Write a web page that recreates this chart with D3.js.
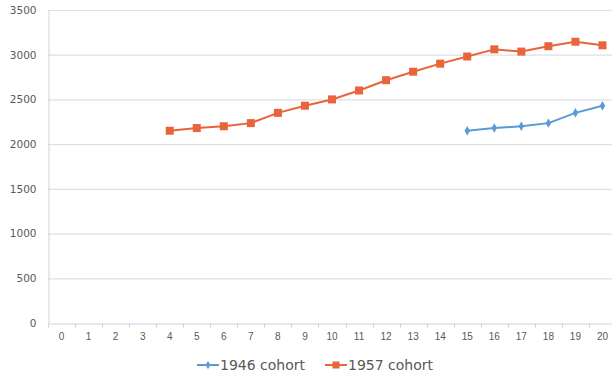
<!DOCTYPE html>
<html><head><meta charset="utf-8">
<script src="https://cdn.jsdelivr.net/npm/d3@7"></script>
<style>body{margin:0;background:#fff}svg{display:block}</style>
</head><body>
<svg id="c" width="612" height="376"></svg>
<script>
const categories = d3.range(0, 21).map(String);
const cohort1946 = [null,null,null,null,null,null,null,null,null,null,null,null,null,null,null,2150,2180,2200,2235,2350,2430];
const cohort1957 = [null,null,null,null,2150,2180,2200,2235,2350,2430,2500,2600,2715,2810,2900,2980,3060,3035,3095,3145,3105];
const yTicks = [0,500,1000,1500,2000,2500,3000,3500];
const seriesNames = ["1946 cohort","1957 cohort"];
const colors = ["#5B9BD5","#E9643A"];

(function(){
const svg = d3.select("#c");
const mLeft = 48, mRight = 616, mTop = 10, mBottom = 323;
const x = d3.scaleBand().domain(categories).range([mLeft, mRight]);
const y = d3.scaleLinear().domain([0, 3500]).range([mBottom, mTop]);
const fontX = "'Liberation Sans', Arial, sans-serif";
const fontY = "'DejaVu Sans', sans-serif";

svg.append("g").selectAll("line").data(yTicks.filter(d=>d>0)).join("line")
  .attr("x1", mLeft).attr("x2", 612).attr("y1", d=>y(d)+0.5).attr("y2", d=>y(d)+0.5)
  .attr("stroke", "#DCE1E5").attr("stroke-width", 1.2);

const ya = svg.append("g").attr("transform", `translate(${mLeft+0.5},0)`)
  .call(d3.axisLeft(y).tickValues(yTicks).tickFormat(d3.format("d")).tickSize(0).tickPadding(12));
ya.select(".domain").attr("stroke", "#CBD5DD");
ya.selectAll("text").attr("font-family", fontY).attr("font-size", 10.5).attr("fill", "#595959");

const xa = svg.append("g").attr("transform", `translate(0,${mBottom+0.5})`)
  .call(d3.axisBottom(x).tickSize(0).tickPadding(9));
xa.select(".domain").attr("stroke", "#CBD5DD");
xa.selectAll("text").attr("font-family", fontX).attr("font-size", 10).attr("fill", "#595959");
xa.append("g").selectAll("line").data(d3.range(0, 22)).join("line")
  .attr("x1", i => Math.round(mLeft + i * x.step()) + 0.5).attr("x2", i => Math.round(mLeft + i * x.step()) + 0.5)
  .attr("y1", 0).attr("y2", 4).attr("stroke", "#CBD5DD");

const cx = i => x(categories[i]) + x.bandwidth()/2;
const line = d3.line().defined(d => d.v != null).x(d => cx(d.i)).y(d => y(d.v));

[cohort1946, cohort1957].forEach((vals, s) => {
  const pts = vals.map((v, i) => ({i, v}));
  svg.append("path").datum(pts).attr("d", line)
    .attr("fill", "none").attr("stroke", colors[s]).attr("stroke-width", 2).attr("stroke-linejoin", "round");
  const valid = pts.filter(d => d.v != null);
  if (s === 0) {
    svg.append("g").selectAll("path").data(valid).join("path")
      .attr("d", d3.symbol(d3.symbolDiamond, 26))
      .attr("transform", d => `translate(${cx(d.i)},${y(d.v)})`)
      .attr("fill", colors[s]);
  } else {
    svg.append("g").selectAll("rect").data(valid).join("rect")
      .attr("x", d => cx(d.i) - 4).attr("y", d => y(d.v) - 4)
      .attr("width", 8).attr("height", 8).attr("fill", colors[s]);
  }
});

const legX = [197, 325];
seriesNames.forEach((name, s) => {
  const g = svg.append("g").attr("transform", `translate(${legX[s]},365)`);
  g.append("line").attr("x1", 0).attr("x2", 22).attr("y1", 0).attr("y2", 0)
    .attr("stroke", colors[s]).attr("stroke-width", 2);
  if (s === 0) g.append("path").attr("d", d3.symbol(d3.symbolDiamond, 20)).attr("transform", "translate(11,0)").attr("fill", colors[s]);
  else g.append("rect").attr("x", 7.5).attr("y", -3.5).attr("width", 7).attr("height", 7).attr("fill", colors[s]);
  g.append("text").attr("x", 23).attr("y", 5).text(name)
    .attr("font-family", fontY).attr("font-size", 14).attr("fill", "#595959");
});
})();
</script>
</body></html>
